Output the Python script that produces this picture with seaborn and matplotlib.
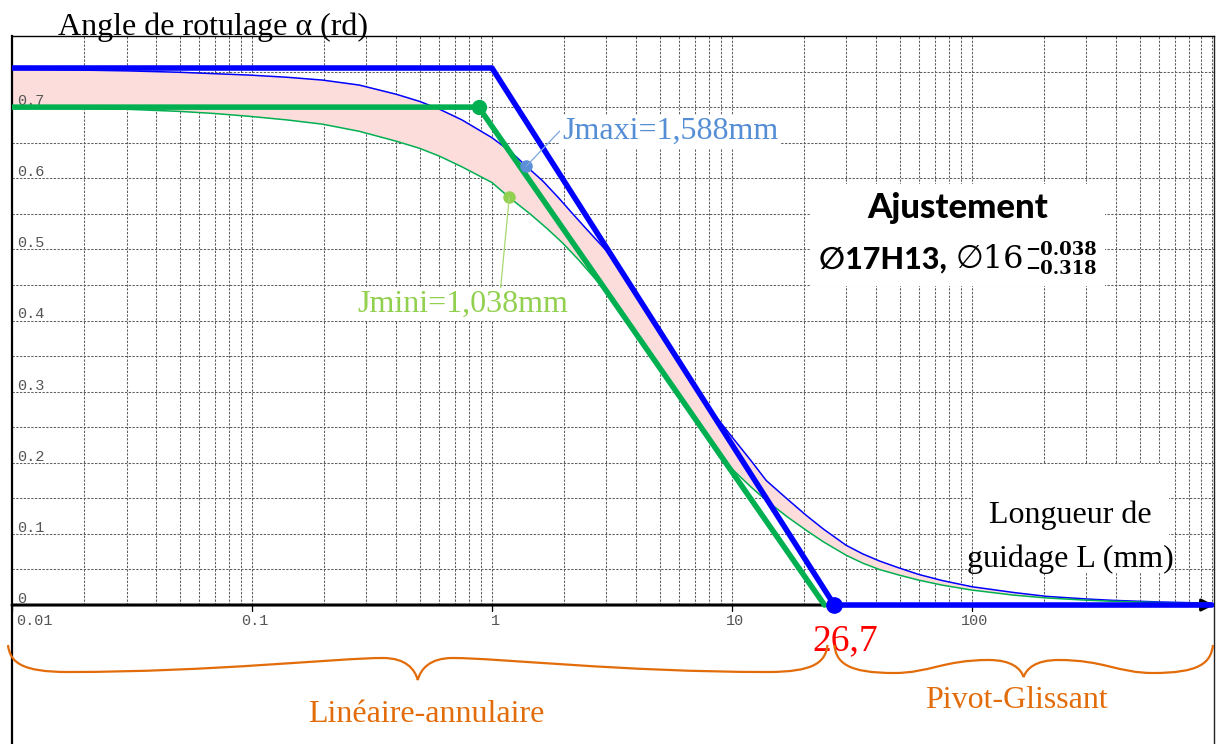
import numpy as np
import pandas as pd
import matplotlib
matplotlib.use("Agg")
import matplotlib.pyplot as plt
import seaborn as sns
from matplotlib.offsetbox import TextArea, HPacker, VPacker, AnnotationBbox
from matplotlib.path import Path
from matplotlib.patches import PathPatch, Rectangle
from matplotlib.transforms import IdentityTransform
from matplotlib.ticker import NullLocator

# ---------------- data ----------------
L_jmax = [0.01, 0.02, 0.03, 0.05, 0.07, 0.098, 0.14, 0.197, 0.28, 0.40, 0.5, 0.605, 0.75,
          1.0, 1.2, 1.39, 1.63, 1.9, 2.17, 2.5, 3.0, 3.5, 4.0, 5.0, 6.0, 7.0, 8.0, 9.75,
          12, 13.9, 17, 20.4, 24, 29.9, 35, 41.1, 49.8, 60, 75, 100, 150, 204, 300, 384,
          600, 1000]
a_jmax = [0.753, 0.752, 0.751, 0.749, 0.747, 0.745, 0.742, 0.738, 0.731, 0.718, 0.708, 0.697, 0.682,
          0.657, 0.637, 0.617, 0.596, 0.572, 0.550, 0.527, 0.498, 0.467, 0.436, 0.386, 0.343, 0.308, 0.278, 0.241,
          0.203, 0.175, 0.149, 0.126, 0.107, 0.084, 0.072, 0.062, 0.052, 0.043, 0.0345, 0.0257, 0.0175, 0.0122,
          0.0085, 0.0066, 0.0043, 0.0026]

L_jmin = [0.01, 0.02, 0.03, 0.05, 0.07, 0.098, 0.14, 0.197, 0.28, 0.40, 0.5, 0.605, 0.75,
          1.0, 1.18, 1.44, 1.7, 1.97, 2.3, 2.8, 3.5, 4.0, 5.0, 6.0, 7.0, 8.87,
          12, 13.9, 17, 20.4, 24, 29.9, 35, 41.1, 49.8, 60, 75, 100, 150, 204, 300, 384,
          600, 1000]
a_jmin = [0.699, 0.698, 0.697, 0.694, 0.691, 0.687, 0.682, 0.676, 0.666, 0.652, 0.642, 0.631, 0.616,
          0.594, 0.573, 0.550, 0.529, 0.509, 0.485, 0.452, 0.409, 0.381, 0.333, 0.295, 0.262, 0.208,
          0.166, 0.147, 0.124, 0.105, 0.089, 0.070, 0.059, 0.050, 0.042, 0.035, 0.028, 0.021, 0.0138, 0.0100,
          0.0068, 0.0053, 0.0034, 0.002]

L_lim_max = [0.01, 1.0, 26.7, 1000]
a_lim_max = [0.755, 0.755, 0.0, 0.0]
L_lim_min = [0.01, 0.88, 24.3]
a_lim_min = [0.70, 0.70, 0.0]

jmax_point = (1.39, 0.617)
jmin_point = (1.18, 0.573)
corner_min = (0.88, 0.70)
L_critical = 26.7

y_tick_values = [0.1, 0.2, 0.3, 0.4, 0.5, 0.6, 0.7]
y_tick_labels = ["0.1", "0.2", "0.3", "0.4", "0.5", "0.6", "0.7"]
x_tick_values = [0.01, 0.1, 1, 10, 100]
x_tick_labels = ["0.01", "0.1", "1", "10", "100"]

label_jmax = "Jmaxi=1,588mm"
label_jmin = "Jmini=1,038mm"
title_text = "Angle de rotulage α (rd)"
xlabel_lines = ["Longueur de", "guidage L (mm)"]
zone1 = "Linéaire-annulaire"
zone2 = "Pivot-Glissant"

# ---------------- style ----------------
sns.set_style("white")
plt.rcParams["font.family"] = ["Liberation Serif", "DejaVu Serif"]
SERIF = ["Liberation Serif", "DejaVu Serif"]
MONO = ["Liberation Mono", "DejaVu Sans Mono"]

BLUE = "#0000ff"
GREEN = "#00b050"
PINK = "#fddcdc"
ORANGE = "#e36c0a"

W, H = 1223, 744
fig = plt.figure(figsize=(W / 100, H / 100), dpi=100)
ax = fig.add_axes([12 / W, 0, 1202 / W, 708 / H])
ax.set_xscale("log")
ax.set_xlim(0.01, 1020)
ax.set_ylim(-0.1954, 0.8)
ax.set_facecolor("white")

ax.spines["bottom"].set_visible(False)
ax.spines["left"].set_linewidth(1.6)
ax.spines["left"].set_color("black")
ax.spines["top"].set_linewidth(1.0)
ax.spines["top"].set_color("black")
ax.spines["right"].set_linewidth(1.0)
ax.spines["right"].set_color("#222222")

ax.set_yticks(np.arange(0, 0.81, 0.1))
ax.set_yticklabels([])
ax.tick_params(axis="y", direction="out", length=5, width=1, color="black")
ax.set_xticks([])
ax.xaxis.set_minor_locator(NullLocator())

# grid (only above the x axis)
grid_kw = dict(colors="#5f5f5f", linewidth=0.75, linestyles=(0, (2.2, 1.4)), zorder=1)
vx = [m * 10.0 ** e for e in range(-2, 3) for m in range(1, 10)] + [1000]
ax.vlines(vx, 0, 0.8, **grid_kw)
ax.hlines(np.arange(0.05, 0.79, 0.05), 0.01, 1020, **grid_kw)

# pink band between the two clearance curves
ax.fill(np.concatenate([L_jmax, L_jmin[::-1]]),
        np.concatenate([a_jmax, a_jmin[::-1]]),
        color=PINK, lw=0, zorder=2)

# x axis with arrow
ax.annotate("", xy=(1020, 0), xytext=(0.01, 0), xycoords="data",
            arrowprops=dict(arrowstyle="-|>", lw=2.2, color="black",
                            mutation_scale=18, shrinkA=0, shrinkB=0), zorder=3)
for d in x_tick_values:
    ax.plot([d, d], [0, -0.008], color="black", lw=0.9, zorder=3)

df_max = pd.DataFrame({"L": L_jmax, "a": a_jmax})
df_min = pd.DataFrame({"L": L_jmin, "a": a_jmin})
df_lmax = pd.DataFrame({"L": L_lim_max, "a": a_lim_max})
df_lmin = pd.DataFrame({"L": L_lim_min, "a": a_lim_min})

sns.lineplot(data=df_max, x="L", y="a", ax=ax, color=BLUE, lw=1.1, zorder=4, estimator=None)
sns.lineplot(data=df_min, x="L", y="a", ax=ax, color=GREEN, lw=1.1, zorder=4, estimator=None)
sns.lineplot(data=df_lmin, x="L", y="a", ax=ax, color=GREEN, lw=4.0, zorder=5, estimator=None)
sns.lineplot(data=df_lmax, x="L", y="a", ax=ax, color=BLUE, lw=4.0, zorder=6, estimator=None)
ax.set_xlabel("")
ax.set_ylabel("")

ax.plot(*corner_min, "o", color=GREEN, ms=10, zorder=7)
ax.plot(L_critical, 0, "o", color=BLUE, ms=11, zorder=7, clip_on=False)
ax.plot(*jmax_point, "o", color="#5b8fd6", ms=8, zorder=7)
ax.plot(*jmin_point, "o", color="#92d050", ms=8, zorder=7)

# annotations
ax.annotate(label_jmax, xy=jmax_point, xytext=(1.957, 0.655), textcoords="data",
            ha="left", va="baseline", color="#558ed5", fontsize=23, family=SERIF,
            bbox=dict(fc="white", ec="none", pad=1.5),
            arrowprops=dict(arrowstyle="-", color="#7aa6e0", lw=0.9,
                            shrinkA=0, shrinkB=0, relpos=(0, 0.6)), zorder=8)
ax.annotate(label_jmin, xy=jmin_point, xytext=(0.274, 0.412), textcoords="data",
            ha="left", va="baseline", color="#92d050", fontsize=23, family=SERIF,
            bbox=dict(fc="white", ec="none", pad=1.5),
            arrowprops=dict(arrowstyle="-", color="#a8da70", lw=0.9,
                            shrinkA=0, shrinkB=0, relpos=(0.68, 1.0)), zorder=8)

# tick labels
ytr = ax.get_yaxis_transform()
for v, t in zip(y_tick_values, y_tick_labels):
    ax.text(0.004, v + 0.003, t, transform=ytr, ha="left", va="baseline",
            fontsize=11, color="#555555", family=MONO, zorder=3)
ax.text(0.004, 0.003, "0", transform=ytr, ha="left", va="baseline",
        fontsize=11, color="#555555", family=MONO, zorder=3)
for v, t in zip(x_tick_values, x_tick_labels):
    if v == 0.01:
        ax.text(0.0104, -0.028, t, ha="left", va="baseline", fontsize=11,
                color="#555555", family=MONO)
    else:
        ax.text(v * 1.03, -0.028, t, ha="center", va="baseline", fontsize=11,
                color="#555555", family=MONO)

# title
fig.text(58 / W, 1 - 35 / H, title_text, ha="left", va="baseline",
         fontsize=23, color="black", family=SERIF)

# x label with white background
ax.add_patch(Rectangle((101.0, 0.046), 660 - 101.0, 0.152, fc="white", ec="none", zorder=3))
ax.text(256, 0.1153, xlabel_lines[0], ha="center", va="baseline", fontsize=23,
        family=SERIF, color="black", zorder=4)
ax.text(256, 0.0534, xlabel_lines[1], ha="center", va="baseline", fontsize=23,
        family=SERIF, color="black", zorder=4)

# critical length
ax.text(29.6, -0.063, "26,7", ha="center", va="baseline", fontsize=27,
        color="red", family=SERIF)

# zone labels
ax.text(0.531, -0.1645, zone1, ha="center", va="baseline", fontsize=23,
        color=ORANGE, family=SERIF)
ax.text(154, -0.1448, zone2, ha="center", va="baseline", fontsize=23,
        color=ORANGE, family=SERIF)

# Ajustement box
SANS_B = dict(family=["Lato", "DejaVu Sans"], weight="black", color="black")
SERIF_M = ["DejaVu Serif", "DejaVu Sans"]
t_title = TextArea("Ajustement", textprops=dict(fontsize=25, **SANS_B))
t_fit = TextArea("∅17H13, ", textprops=dict(fontsize=22, **SANS_B))
t_d = TextArea("∅16", textprops=dict(fontsize=23, family=SERIF_M, color="black"))
t_sup = TextArea("−0.038", textprops=dict(fontsize=13, family=SERIF_M, weight="bold", color="black"))
t_sub = TextArea("−0.318", textprops=dict(fontsize=13, family=SERIF_M, weight="bold", color="black"))
scripts = VPacker(children=[t_sup, t_sub], align="left", pad=0, sep=1)
line2 = HPacker(children=[t_fit, t_d, scripts], align="center", pad=0, sep=1)
box = VPacker(children=[t_title, line2], align="center", pad=0, sep=12)
ab = AnnotationBbox(box, (958, H - 235), xycoords="figure pixels", frameon=True,
                    box_alignment=(0.5, 0.5), pad=0.6,
                    bboxprops=dict(fc="white", ec="none"), zorder=9)
ax.add_artist(ab)

# braces
def brace(x0, x1, ytop, tip, arm_low, arm_mid):
    h = (x1 - x0) / 2.0
    half = [(0, 0), (2, arm_low * 0.65), (14, arm_low), (60, arm_low),
            (0.5 * h, arm_low), (h - 80, arm_mid), (h - 35, arm_mid),
            (h - 12, arm_mid), (h - 3, (arm_mid + tip) / 2), (h, tip)]
    right = [(2 * h - dx, dy) for dx, dy in half[::-1]][1:]
    pts = half + right
    verts = [(x0 + dx, ytop - dy) for dx, dy in pts]
    codes = [Path.MOVETO] + [Path.CURVE4] * (len(verts) - 1)
    patch = PathPatch(Path(verts, codes), fc="none", ec=ORANGE, lw=1.6,
                      transform=IdentityTransform(), clip_on=False, zorder=5)
    fig.add_artist(patch)

fig.canvas.draw()
tx = lambda L: ax.transData.transform((L, 0))[0]
ytop = H - 645
brace(tx(0.01) - 4, tx(24.3) + 3, ytop, 35, 27, 13)
brace(tx(L_critical), tx(1000) + 1, ytop, 32, 28, 15)

fig.savefig("out.png", dpi=100)
